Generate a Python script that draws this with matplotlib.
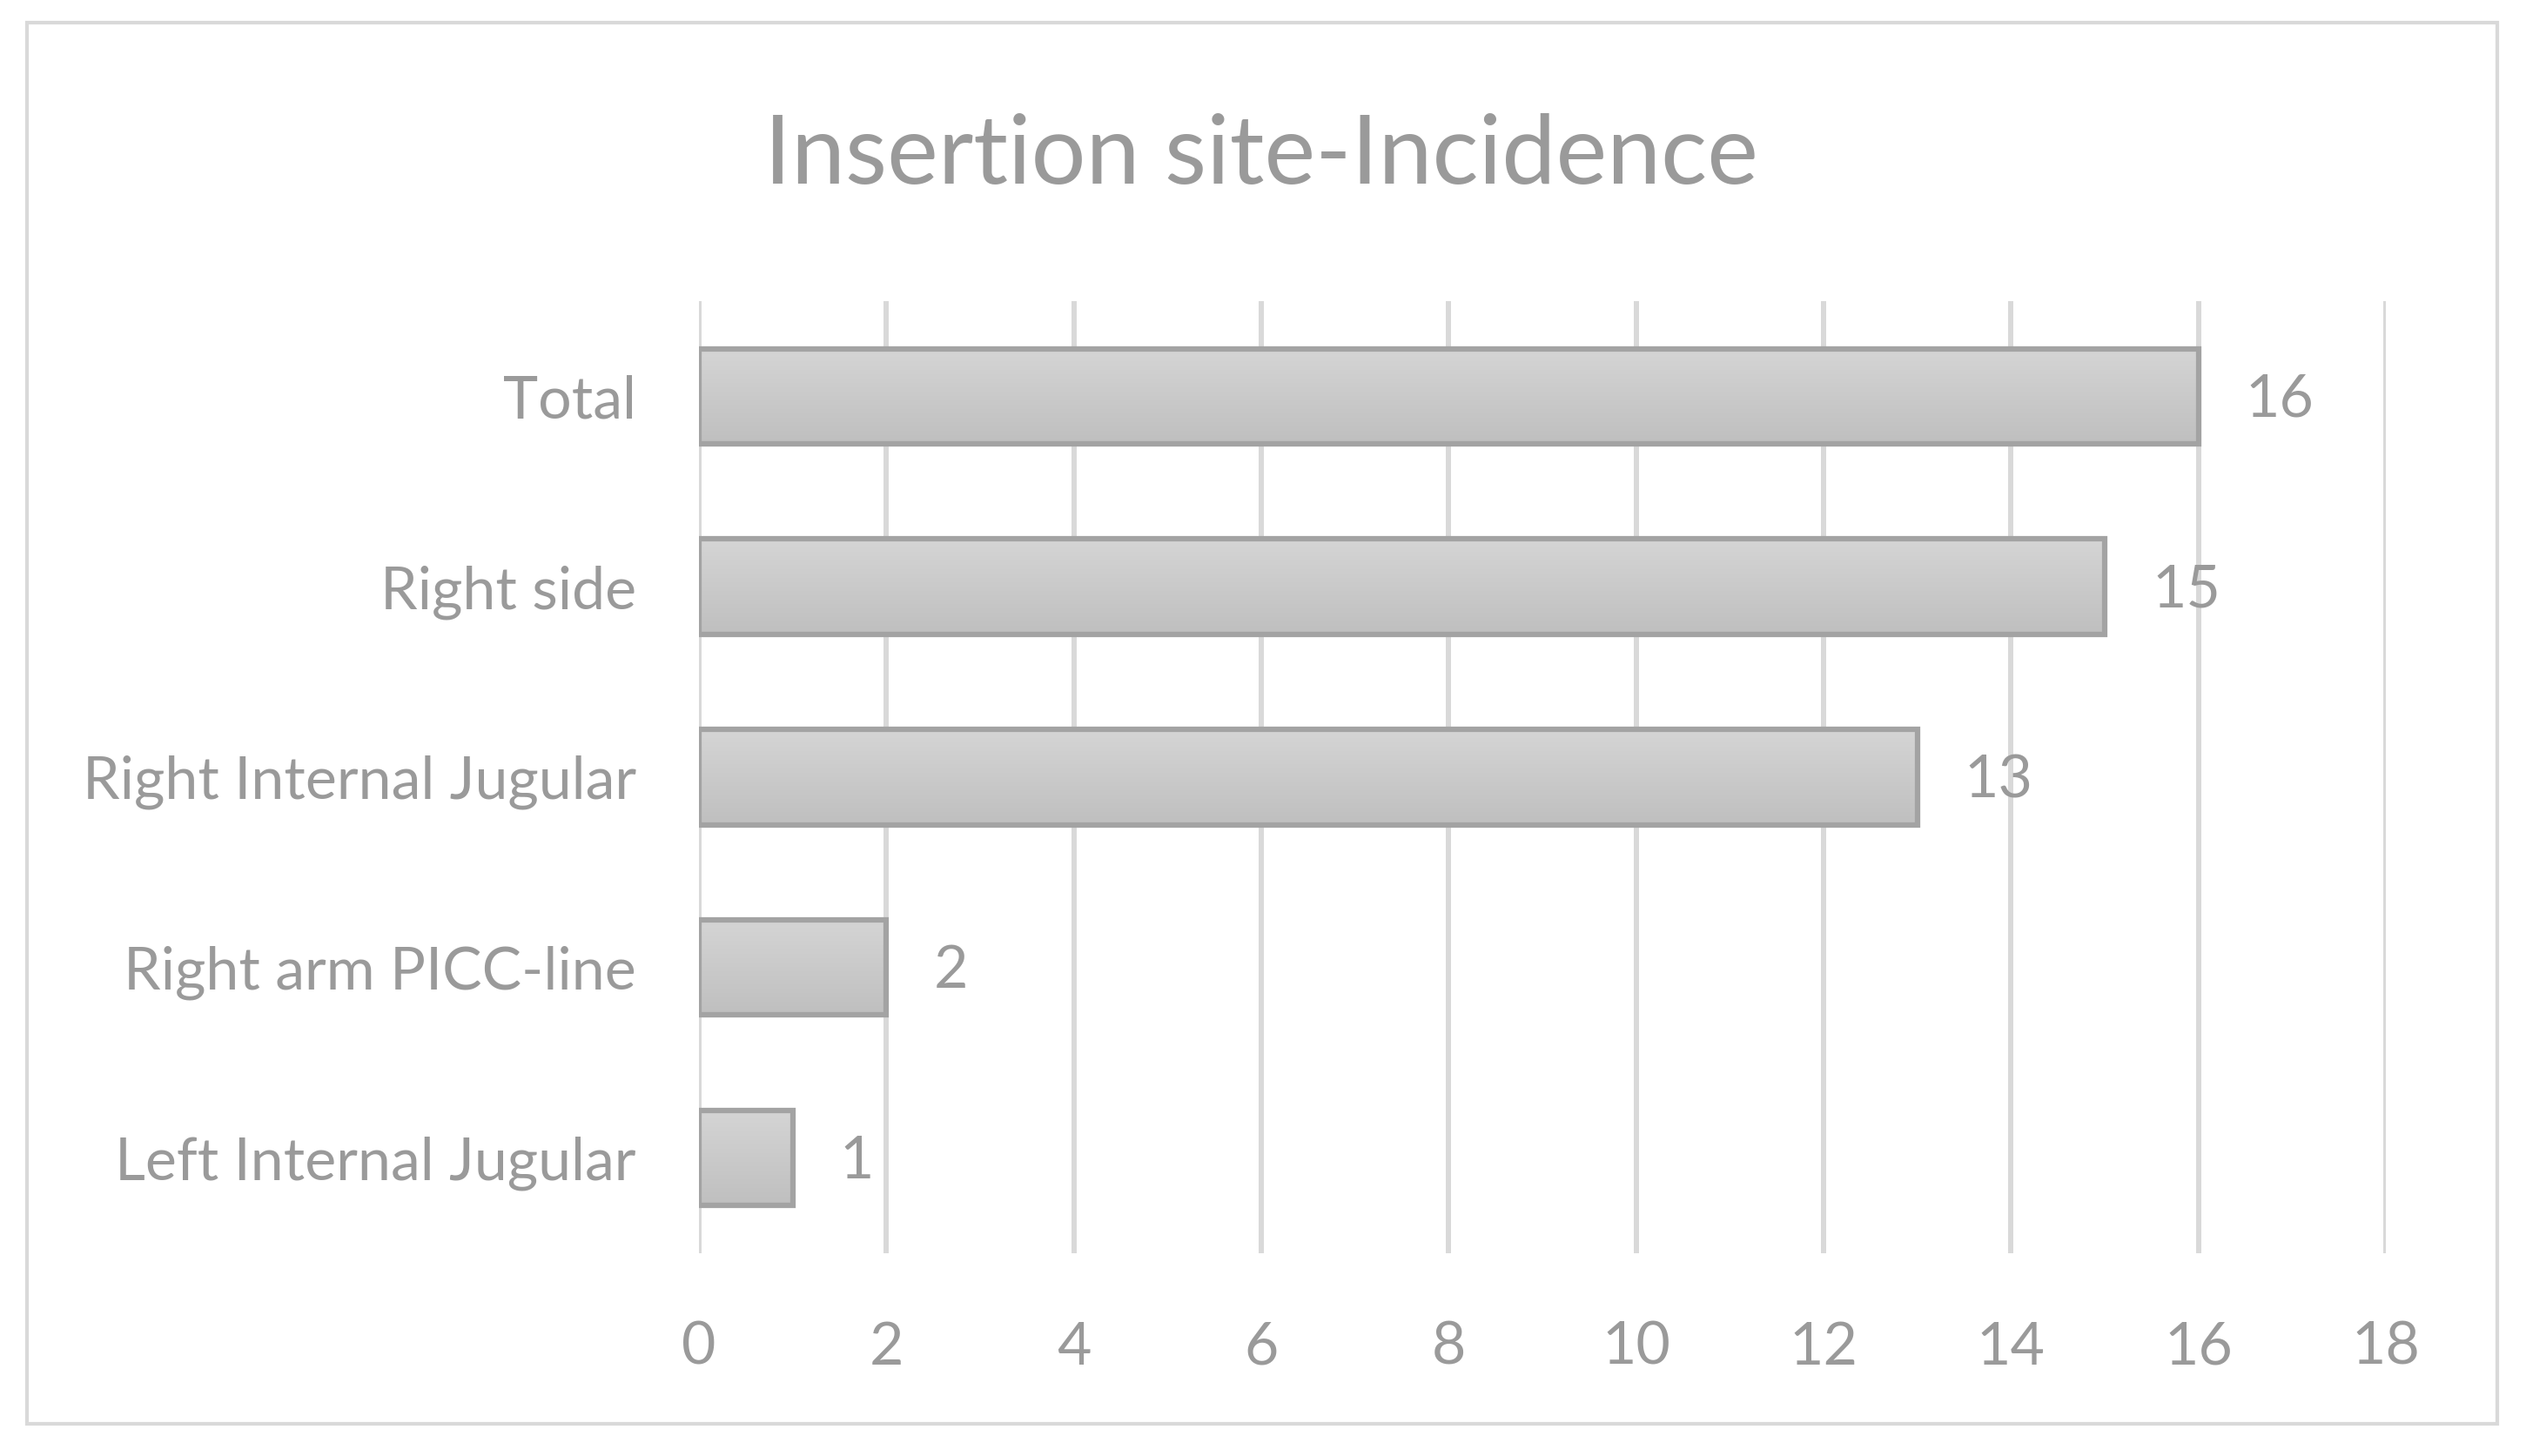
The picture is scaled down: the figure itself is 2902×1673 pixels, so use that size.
import numpy as np
import matplotlib
matplotlib.use('Agg')
import matplotlib.pyplot as plt
from matplotlib.patches import Rectangle

# donnees du graphique
categories = ['Total', 'Right side', 'Right Internal Jugular',
              'Right arm PICC-line', 'Left Internal Jugular']
valeurs = [16, 15, 13, 2, 1]
ticks_x = [0, 2, 4, 6, 8, 10, 12, 14, 16, 18]
titre = 'Insertion site-Incidence'

GRIS_TEXTE = '#9a9a9a'
GRIS_GRILLE = '#d9d9d9'
GRIS_BORD = '#a3a3a3'

plt.rcParams['font.family'] = ['Lato', 'DejaVu Sans']

fig = plt.figure(figsize=(29.02, 16.73), dpi=100)
ax = fig.add_axes([0.2767, 0.1393, 0.6678, 0.6539])

y = np.arange(len(categories))
barres = ax.barh(y, valeurs, height=0.5, facecolor='none',
                 edgecolor=GRIS_BORD, linewidth=4.5, zorder=3)

# degrade vertical dans chaque barre
degrade = np.linspace(0, 1, 256).reshape(-1, 1)
cmap = matplotlib.colors.LinearSegmentedColormap.from_list('g', ['#d5d5d5', '#bfbfbf'])
for b in barres:
    x0, y0 = b.get_x(), b.get_y()
    im = ax.imshow(degrade, extent=[x0, x0 + b.get_width(), y0 + b.get_height(), y0],
                   aspect='auto', cmap=cmap, zorder=2, origin='upper')
    im.set_clip_path(b)

for i, v in enumerate(valeurs):
    ax.annotate(str(v), xy=(v, i), xytext=(39, -3), textcoords='offset points',
                va='center', ha='left', fontsize=49, color=GRIS_TEXTE)

ax.set_xlim(0, 18)
ax.set_ylim(len(categories) - 0.5, -0.5)
ax.set_xticks(ticks_x)
ax.set_yticks(y)
ax.set_yticklabels(categories)
ax.tick_params(axis='both', length=0, labelsize=49, labelcolor=GRIS_TEXTE)
ax.tick_params(axis='y', pad=52)
ax.tick_params(axis='x', pad=56)
for s in ax.spines.values():
    s.set_visible(False)
ax.grid(axis='x', color=GRIS_GRILLE, linewidth=4.3, zorder=0)
ax.set_axisbelow(True)

fig.text(0.4993, 0.8925, titre, ha='center', va='center', fontsize=80, color=GRIS_TEXTE)

# cadre exterieur
fig.patches.append(Rectangle((31 / 2902, 37 / 1673), 2838 / 2902, 1610 / 1673,
                             transform=fig.transFigure, fill=False,
                             edgecolor=GRIS_GRILLE, linewidth=3))

fig.savefig('out.png', dpi=100)
